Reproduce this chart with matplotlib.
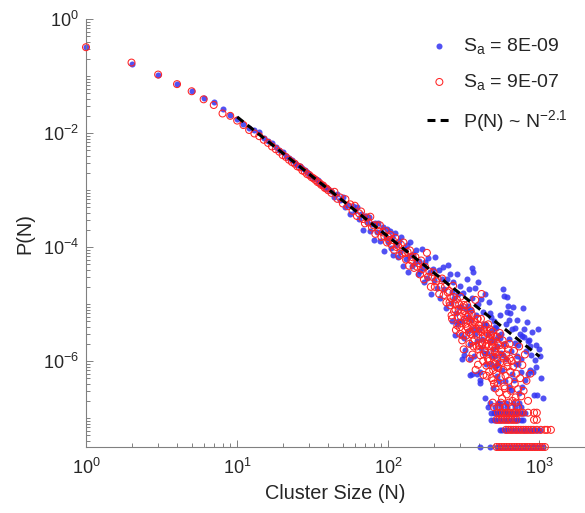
import matplotlib
matplotlib.use('Agg')
import matplotlib.pyplot as plt
from matplotlib.ticker import FixedLocator, LogLocator, NullFormatter, LogFormatterSciNotation

plt.rcParams['font.family'] = ['Liberation Sans', 'DejaVu Sans']
plt.rcParams['mathtext.fontset'] = 'custom'
plt.rcParams['mathtext.rm'] = 'Liberation Sans'
plt.rcParams['mathtext.it'] = 'Liberation Sans:italic'
plt.rcParams['mathtext.bf'] = 'Liberation Sans:bold'

# ---------------- data ----------------
label_blue = r'S$_\mathregular{a}$ = 8E-09'
label_red = r'S$_\mathregular{a}$ = 9E-07'
label_fit = r'P(N) ~ N$^{-2.1}$'

# small cluster sizes, N = 1..40
head_N = list(range(1, 41))
blue_head_P = [0.32, 0.165, 0.105, 0.073, 0.055, 0.041, 0.0345, 0.026, 0.0205, 0.0175,
               0.0144, 0.0124, 0.0112, 0.0103, 0.0083, 0.0072, 0.0066, 0.0056, 0.0050, 0.0046,
               0.0040, 0.0036, 0.0034, 0.0030, 0.0028, 0.0026, 0.0024, 0.0022, 0.0021, 0.0019,
               0.00178, 0.00165, 0.00158, 0.00147, 0.00136, 0.00130, 0.00121, 0.00114, 0.00110, 0.00104]
red_head_P = [0.32, 0.172, 0.106, 0.072, 0.054, 0.039, 0.031, 0.022, 0.020, 0.0165,
              0.0138, 0.0113, 0.0098, 0.0088, 0.0076, 0.0067, 0.0058, 0.0052, 0.0047, 0.0041,
              0.0038, 0.0034, 0.0031, 0.0029, 0.0026, 0.0025, 0.0022, 0.0021, 0.0019, 0.00183,
              0.00168, 0.00160, 0.00150, 0.00138, 0.00133, 0.00123, 0.00120, 0.00109, 0.00106, 0.00099]

# N = 42..100
mid_N = list(range(42, 101, 2))
blue_mid_P = [9.8e-4, 7.6e-4, 8.5e-4, 6.7e-4, 7.5e-4, 5.1e-4, 5.5e-4, 3.8e-4, 5.2e-4, 4.2e-4,
              5.0e-4, 3.1e-4, 3.8e-4, 2.0e-4, 3.5e-4, 2.7e-4, 3.4e-4, 1.9e-4, 2.55e-4, 1.33e-4,
              2.6e-4, 1.85e-4, 2.6e-4, 1.29e-4, 1.8e-4, 2.2e-4, 8.6e-5, 1.5e-4, 2.05e-4, 1.2e-4]
red_mid_P = [8.9e-4, 9.3e-4, 7.0e-4, 7.4e-4, 5.8e-4, 6.9e-4, 5.2e-4, 5.6e-4, 4.3e-4, 5.3e-4,
             3.5e-4, 3.9e-4, 4.2e-4, 3.1e-4, 2.6e-4, 3.3e-4, 2.7e-4, 3.4e-4, 2.2e-4, 2.4e-4,
             1.7e-4, 2.4e-4, 1.9e-4, 2.4e-4, 1.5e-4, 1.8e-4, 1.55e-4, 1.9e-4, 1.2e-4, 1.5e-4]

# N = 100..250
blue_c_N = [102, 104, 106, 108, 110, 112, 115, 117, 120, 122, 125, 128, 130, 133, 135,
            138, 140, 143, 146, 150, 153, 156, 160, 163, 166, 170, 173, 176, 180, 184,
            188, 192, 196, 200, 205, 210, 215, 220, 225, 230, 235, 240, 245, 250]
blue_c_P = [1.9e-4, 9.8e-5, 1.5e-4, 7.2e-5, 1.75e-4, 1.08e-4, 6.8e-5, 1.3e-4, 8.2e-5, 1.5e-4,
            4.7e-5, 9.1e-5, 6.1e-5, 1.08e-4, 3.6e-5, 6.9e-5, 1.2e-4, 4.6e-5, 7.5e-5, 5.2e-5,
            8.7e-5, 3.3e-5, 5.6e-5, 3.8e-5, 9.4e-5, 4.2e-5, 2.4e-5, 5.5e-5, 2.9e-5, 6.3e-5,
            3.6e-5, 1.5e-5, 4.1e-5, 2.6e-5, 6.7e-5, 1.9e-5, 4.0e-5, 1.3e-5, 2.8e-5, 4.5e-5,
            1.8e-5, 8.4e-6, 2.8e-5, 4.9e-5]
red_c_N = [101, 103, 105, 107, 109, 111, 113, 116, 118, 121, 124, 126, 129, 131, 134,
           137, 139, 142, 145, 148, 151, 155, 158, 162, 165, 168, 172, 175, 180, 183,
           187, 191, 195, 199, 203, 207, 212, 217, 222, 227, 232, 237, 242, 247]
red_c_P = [1.33e-4, 1.63e-4, 1.1e-4, 1.32e-4, 8.9e-5, 1.46e-4, 1.0e-4, 1.05e-4, 7.0e-5, 1.11e-4,
           7.7e-5, 1.2e-4, 8.0e-5, 6.0e-5, 8.2e-5, 4.7e-5, 8.7e-5, 5.8e-5, 6.6e-5, 4.3e-5,
           6.7e-5, 4.5e-5, 5.2e-5, 3.3e-5, 5.8e-5, 4.1e-5, 2.7e-5, 4.5e-5, 7.9e-5, 3.0e-5,
           3.7e-5, 2.0e-5, 3.0e-5, 3.6e-5, 2.0e-5, 2.5e-5, 2.8e-5, 1.5e-5, 2.0e-5, 2.8e-5,
           1.43e-5, 2.0e-5, 1.07e-5, 1.6e-5]

# N = 250..450
blue_d_N = [254, 258, 263, 267, 271, 275, 279, 283, 287, 291, 295, 299, 304, 309, 314,
            319, 324, 329, 334, 339, 344, 349, 354, 359, 364, 370, 376, 382, 388, 394,
            400, 406, 412, 418, 424, 430, 436, 442, 448,
            305, 321, 346, 348, 356, 357, 361, 385, 402, 404, 437]
blue_d_P = [3.4e-5, 1.04e-5, 5.0e-6, 2.4e-5, 1.3e-5, 2.9e-6, 7.0e-6, 3.4e-5, 1.47e-5, 5.1e-6,
            8.8e-6, 2.1e-5, 2.9e-6, 5.0e-6, 1.54e-5, 1.3e-6, 8.1e-6, 2.8e-5, 3.4e-6, 9.2e-6,
            1.8e-5, 2.0e-6, 5.3e-6, 1.3e-5, 3.6e-6, 1.2e-6, 1.9e-5, 6.4e-6, 2.2e-6, 2.4e-5,
            3.7e-6, 6.3e-7, 1.2e-5, 2.4e-6, 7.2e-6, 1.4e-6, 1.5e-5, 4.2e-6, 1.4e-6,
            1.07e-6, 1.56e-6, 1.07e-6, 5.6e-7, 4.2e-5, 6.0e-7, 3.6e-5, 6.0e-7, 4.7e-7, 4.1e-7, 2.2e-7]
red_d_N = [252, 256, 260, 264, 268, 272, 276, 280, 284, 288, 292, 296, 300, 304, 308,
           312, 316, 320, 324, 328, 332, 336, 340, 344, 348, 352, 356, 360, 364, 368,
           372, 376, 380, 384, 388, 392, 396, 400, 405, 410, 414, 418, 422, 426, 430,
           435, 440, 445, 450,
           254, 262, 270, 278, 286, 294, 302, 310, 318, 326, 334, 342, 350, 358, 366,
           374, 382, 390, 398, 407, 416, 424, 433, 442]
red_d_P = [1.7e-5, 9.5e-6, 1.28e-5, 5.5e-6, 2.1e-5, 7.4e-6, 1.0e-5, 3.5e-6, 1.2e-5, 5.8e-6,
           8.0e-6, 3.9e-6, 1.34e-5, 4.6e-6, 2.3e-6, 8.8e-6, 9.6e-6, 5.3e-6, 6.4e-6, 2.8e-6,
           9.6e-6, 3.8e-6, 6.5e-6, 2.0e-6, 4.9e-6, 2.95e-6, 6.7e-6, 1.3e-6, 3.6e-6, 4.9e-6,
           2.4e-6, 1.18e-5, 3.7e-6, 1.8e-6, 5.5e-6, 8.6e-7, 4.2e-6, 3.7e-6, 1.26e-6, 5.5e-6,
           1.5e-5, 2.1e-6, 2.6e-6, 5.7e-7, 3.5e-6, 1.5e-6, 4.2e-6, 8.3e-7, 2.0e-6,
           1.07e-5, 6.3e-6, 1.33e-5, 8.0e-6, 4.2e-6, 9.9e-6, 6.0e-6, 2.8e-6, 7.5e-6, 4.5e-6,
           6.0e-6, 3.2e-6, 7.7e-6, 4.2e-6, 1.8e-6, 4.8e-6, 2.9e-6, 5.5e-6, 1.9e-6, 3.6e-6,
           1.9e-6, 1.0e-6, 2.8e-6, 1.85e-6]

# N = 450..1100
blue_e_N = [465, 470, 475, 480, 485, 490, 494, 498, 502, 506, 510, 515, 520, 525, 530,
            535, 540, 547, 549, 555, 560, 565, 573, 580, 586, 592, 599, 606, 612, 621,
            628, 630, 636, 643, 650, 660, 670, 676, 685, 695, 705, 715, 722, 730, 741,
            752, 761, 770, 780, 790, 800, 815, 829, 835, 841, 855, 865, 880, 895, 908,
            920, 933, 945, 955, 970, 980, 995, 1006, 1020, 1059]
blue_e_P = [1.1e-5, 2.2e-6, 6.0e-6, 9.0e-7, 3.5e-6, 1.6e-6, 3.3e-7, 5.0e-6, 2.3e-6, 8.0e-7,
            1.2e-6, 3.8e-6, 1.8e-6, 5.5e-7, 2.8e-6, 9.5e-7, 4.5e-7, 6.4e-6, 1.8e-7, 1.4e-6,
            3.0e-6, 7.0e-7, 1.8e-5, 2.0e-6, 1.38e-5, 4.5e-7, 1.1e-6, 1.35e-5, 7.3e-6, 9.2e-6,
            2.4e-6, 5.2e-6, 6.9e-6, 3.1e-7, 1.5e-6, 3.6e-6, 8.9e-6, 4.7e-7, 2.1e-6, 9.0e-7,
            1.2e-6, 5.2e-6, 1.9e-6, 2.8e-7, 3.0e-6, 6.5e-7, 2.7e-6, 3.5e-7, 8.4e-6, 3.6e-6,
            4.7e-7, 1.5e-6, 4.9e-6, 6.0e-7, 2.2e-6, 2.3e-6, 6.9e-7, 1.3e-6, 3.2e-6, 6.5e-7,
            2.5e-7, 1.05e-6, 1.9e-6, 8.0e-7, 2.5e-7, 3.6e-6, 1.6e-6, 1.2e-6, 5.0e-7, 2.2e-7]
red_e_N = [452, 455, 458, 461, 464, 467, 470, 473, 476, 479, 482, 485, 488, 491, 494,
           497, 500, 503, 506, 509, 512, 515, 518, 521, 524, 527, 530, 534, 538, 542,
           546, 550, 555, 560, 565, 570, 575, 580, 585, 590, 596, 602, 608, 614, 620,
           627, 634, 641, 648, 655, 663, 670, 678, 686, 694, 702, 712, 722, 733, 745,
           757, 770, 785, 800, 820, 840, 870]
red_e_P = [3.0e-6, 1.1e-6, 4.4e-6, 1.8e-6, 6.5e-7, 2.5e-6, 3.6e-6, 1.4e-6, 8.5e-7, 2.9e-6,
           5.0e-7, 1.9e-6, 3.3e-6, 1.2e-6, 6.9e-7, 2.3e-6, 4.0e-7, 1.5e-6, 2.7e-6, 9.0e-7,
           3.3e-7, 1.7e-6, 6.0e-7, 2.7e-6, 1.1e-6, 4.1e-7, 2.0e-6, 7.5e-7, 1.3e-6, 2.8e-7,
           3.1e-6, 9.5e-7, 5.2e-7, 1.6e-6, 2.2e-7, 2.3e-6, 7.0e-7, 1.1e-6, 3.6e-7, 1.9e-6,
           5.5e-7, 1.3e-6, 2.6e-7, 8.0e-7, 1.6e-6, 4.5e-7, 2.0e-6, 6.5e-7, 3.0e-7, 1.0e-6,
           2.0e-7, 8.0e-7, 1.5e-6, 4.0e-7, 2.3e-7, 6.0e-7, 1.1e-6, 3.2e-7, 1.8e-6, 5.0e-7,
           2.4e-7, 8.5e-7, 3.0e-7, 1.3e-6, 4.5e-7, 2.0e-7, 6.0e-7]

# additional points in the dense tail region
blue_x_N = [262, 285, 302, 318, 336, 352, 372, 392, 410, 428, 446, 458, 472, 488, 505,
            522, 545, 570, 596, 625, 655, 690, 725, 760, 795, 870]
blue_x_P = [1.6e-5, 4.5e-6, 9.0e-6, 2.5e-6, 6.0e-6, 8.0e-6, 3.0e-6, 1.0e-5, 1.7e-6, 4.5e-6,
            9.0e-7, 3.0e-6, 7.0e-6, 1.2e-6, 4.0e-6, 8.5e-7, 2.5e-6, 1.3e-6, 4.5e-6, 3.5e-7,
            6.0e-7, 3.8e-6, 9.0e-7, 1.1e-6, 2.6e-6, 1.8e-6]
red_x_N = [298, 315, 330, 345, 362, 378, 395, 412, 428, 447, 462, 478, 493, 510, 528,
           548, 568, 590, 612, 636]
red_x_P = [3.0e-6, 1.6e-6, 4.0e-6, 1.1e-6, 2.2e-6, 7.0e-7, 1.6e-6, 3.2e-6, 1.3e-6, 5.5e-7,
           1.0e-6, 2.2e-6, 4.6e-7, 1.4e-6, 8.0e-7, 1.9e-6, 1.2e-6, 3.3e-7, 9.5e-7, 1.1e-6]

# lowest-probability levels (1..6 clusters observed): P level -> cluster sizes
blue_rows = {
    3.1e-8: [403, 470, 520, 540, 560, 582, 604, 627, 651, 676, 702, 729, 757, 786, 816,
             847, 880, 913, 948, 985, 1020, 1059],
    6.2e-8: [547, 568, 590, 613, 637, 662, 688, 715, 743, 772, 802, 833, 866, 900, 935, 971, 1006],
    9.3e-8: [480, 498, 517, 537, 557, 578, 600, 623, 647, 672, 698, 725, 753, 780],
    1.24e-7: [480, 498, 517, 537, 557, 578, 600, 623, 647, 672, 698, 725, 753, 782, 800],
    1.55e-7: [455, 510, 560, 610, 690, 760],
    1.86e-7: [470, 530, 600, 665, 735],
}
red_rows = {
    3.1e-8: [520, 541, 562, 584, 607, 631, 656, 682, 709, 737, 766, 796, 828, 861, 895,
             930, 967, 1005, 1045, 1086],
    6.2e-8: [600, 623, 647, 672, 698, 725, 753, 782, 812, 844, 877, 911, 961, 1020, 1086, 1124, 1190],
    9.3e-8: [520, 540, 561, 583, 606, 630, 655, 681, 705, 920, 960],
    1.24e-7: [531, 551, 572, 594, 617, 641, 666, 692, 719, 747, 776, 840, 920, 960],
    1.55e-7: [500, 540, 590, 650, 720],
    1.86e-7: [490, 555, 625, 700],
}

# fitted power law P(N) ~ N^-2.1, endpoints
fit_N = [10, 1000]
fit_P = [0.0191, 1.2e-6]

# ---------------- assemble ----------------
blue_N = head_N + mid_N + blue_c_N + blue_d_N + blue_e_N + blue_x_N
blue_P = blue_head_P + blue_mid_P + blue_c_P + blue_d_P + blue_e_P + blue_x_P
red_N = head_N + mid_N + red_c_N + red_d_N + red_e_N + red_x_N
red_P = red_head_P + red_mid_P + red_c_P + red_d_P + red_e_P + red_x_P
for lvl, ns in blue_rows.items():
    blue_N += ns
    blue_P += [lvl] * len(ns)
for lvl, ns in red_rows.items():
    red_N += ns
    red_P += [lvl] * len(ns)

# ---------------- plot ----------------
W, H = 585, 513
fig = plt.figure(figsize=(W / 100, H / 100), dpi=100)
ax = fig.add_axes([86 / W, 66 / H, 499 / W, 428 / H])

ax.scatter(blue_N, blue_P, s=19, c='#3333f2', alpha=0.85, linewidths=0,
           label=label_blue, zorder=2, clip_on=False)
ax.scatter(red_N, red_P, s=25, facecolors='none', edgecolors='#ff2424',
           linewidths=0.75, label=label_red, zorder=3, clip_on=False)
ax.plot(fit_N, fit_P, color='black', ls=(0, (2.6, 1.7)), lw=2.2,
        label=label_fit, zorder=4)

ax.set_xscale('log')
ax.set_yscale('log')
ax.set_xlim(1, 2000)
ax.set_ylim(3.1e-8, 1)

axis_grey = '#808080'
text_col = '#262626'
for s in ['top', 'right']:
    ax.spines[s].set_visible(False)
for s in ['left', 'bottom']:
    ax.spines[s].set_color(axis_grey)
    ax.spines[s].set_linewidth(0.8)

ax.xaxis.set_major_locator(FixedLocator([1, 10, 100, 1000]))
ax.xaxis.set_minor_locator(LogLocator(base=10, subs=range(2, 10), numticks=20))
ax.yaxis.set_major_locator(FixedLocator([1e-6, 1e-4, 1e-2, 1]))
ax.yaxis.set_minor_locator(LogLocator(base=10, subs=range(1, 10), numticks=30))
ax.xaxis.set_major_formatter(LogFormatterSciNotation())
ax.yaxis.set_major_formatter(LogFormatterSciNotation())
ax.xaxis.set_minor_formatter(NullFormatter())
ax.yaxis.set_minor_formatter(NullFormatter())

ax.tick_params(which='both', direction='in', color=axis_grey, width=0.7,
               labelsize=13, labelcolor=text_col)
ax.tick_params(which='major', length=5)
ax.tick_params(which='minor', length=3)
ax.tick_params(axis='x', pad=8)
ax.tick_params(axis='y', pad=5)

ax.set_xlabel('Cluster Size (N)', fontsize=14.3, color=text_col, labelpad=4)
ax.set_ylabel('P(N)', fontsize=14.3, color=text_col, labelpad=6)

leg = ax.legend(loc='upper right', bbox_to_anchor=(1.0, 1.0), frameon=False,
                fontsize=14, handlelength=1.3, handletextpad=0.55,
                labelspacing=0.8, borderaxespad=0.5, scatterpoints=1)
for t in leg.get_texts():
    t.set_color(text_col)

fig.savefig('out.png', dpi=100)
